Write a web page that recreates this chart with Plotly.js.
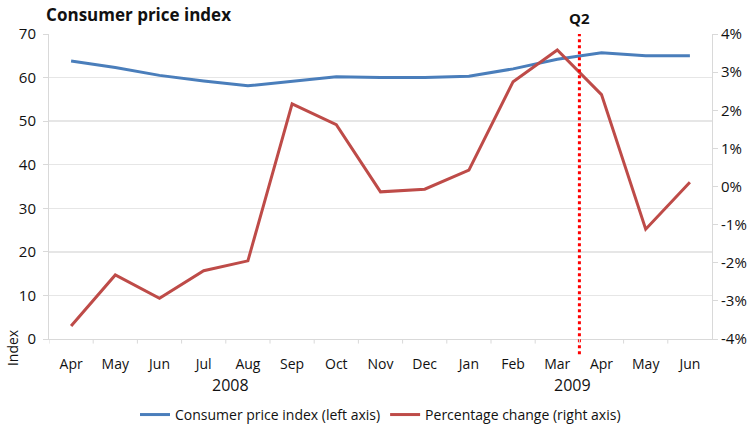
<!DOCTYPE html>
<html><head><meta charset="utf-8">
<script src="https://cdn.plot.ly/plotly-3.0.1.min.js"></script>
<style>html,body{margin:0;padding:0;background:#fff}#chart{width:756px;height:430px}</style>
</head><body><div id="chart"></div>
<script>
var months = ["Apr 08","May 08","Jun 08","Jul 08","Aug 08","Sep 08","Oct 08","Nov 08","Dec 08","Jan 09","Feb 09","Mar 09","Apr 09","May 09","Jun 09"];
var monthLabels = ["Apr","May","Jun","Jul","Aug","Sep","Oct","Nov","Dec","Jan","Feb","Mar","Apr","May","Jun"];
var cpi = [63.8,62.3,60.5,59.2,58.1,59.2,60.2,60.0,60.0,60.3,62.0,64.2,65.7,65.0,65.0];
var pctChange = [-3.66,-2.32,-2.93,-2.21,-1.95,2.17,1.62,-0.14,-0.07,0.43,2.75,3.58,2.41,-1.12,0.11];
var rightTickVals = [-4,-3,-2,-1,0,1,2,3,4];
var rightTickText = ["-4%","-3%","-2%","-1%","0%","1%","2%","3%","4%"];
var yearLabels = ["2008","2009"];
var yearPos = [3.6,11.35];

var F = "Open Sans, Liberation Sans, sans-serif";
var idx = months.map(function(_,i){return i;});
var traces = [
 {x: idx, y: cpi, type:'scatter', mode:'lines', name:'Consumer price index (left axis)',
  line:{color:'#4a7ebb', width:3}, yaxis:'y'},
 {x: idx, y: pctChange, type:'scatter', mode:'lines', name:'Percentage change (right axis)',
  line:{color:'#be4b48', width:3}, yaxis:'y2'}
];
var ann = [
 {text:'<b>Q2</b>', xref:'x', x:11.5, xanchor:'center', yref:'paper', y:1.052, yanchor:'middle', showarrow:false, font:{family:F,size:15,color:'#111'}},
 {text:'Index', xref:'paper', x:-0.056, xanchor:'center', yref:'paper', y:-0.027, yanchor:'middle', textangle:-90, showarrow:false, font:{family:F,size:14,color:'#111'}}
];
yearLabels.forEach(function(t,i){
 ann.push({text:t, xref:'x', x:yearPos[i], xanchor:'center', yref:'paper', y:-0.151, yanchor:'middle', showarrow:false, font:{family:F,size:16,color:'#111'}});
});
var layout = {
 width:756, height:430,
 margin:{l:49, r:44, t:34, b:91, autoexpand:false},
 paper_bgcolor:'#fff', plot_bgcolor:'#fff',
 font:{family:F, size:14, color:'#111'},
 title:{text:'<b>Consumer price index</b>', x:0.061, xanchor:'left', y:0.965, yanchor:'middle', font:{family:F,size:17,color:'#111'}},
 showlegend:true,
 legend:{orientation:'h', x:0.5, xanchor:'center', yref:'container', y:0.035, yanchor:'middle', font:{family:F,size:14,color:'#111'}},
 xaxis:{range:[-0.5,14.5], tickmode:'array', tickvals:idx, ticktext:monthLabels, showgrid:false,
   showline:true, linecolor:'#d9d9d9', linewidth:1, ticks:'', zeroline:false, fixedrange:true,
   ticklabelstandoff:12, automargin:false,
   tickfont:{family:F,size:14,color:'#111'}},
 yaxis:{range:[0,70], dtick:10, showgrid:true, gridcolor:'#e6e6e6', gridwidth:1.5, zeroline:false,
   showline:true, linecolor:'#d9d9d9', ticks:'outside', ticklen:5, tickcolor:'#d9d9d9',
   ticklabelstandoff:4, automargin:false,
   tickfont:{family:F,size:15,color:'#111'}},
 yaxis2:{range:[-4,4], tickmode:'array', tickvals:rightTickVals, ticktext:rightTickText, overlaying:'y', side:'right', showgrid:false, zeroline:false,
   showline:true, linecolor:'#d9d9d9', ticks:'outside', ticklen:5, tickcolor:'#d9d9d9', automargin:false,
   tickfont:{family:F,size:15,color:'#111'}},
 shapes:[
  {type:'line', xref:'x', x0:11.5, x1:11.5, yref:'paper', y0:-0.05, y1:1, line:{color:'#ff0000', width:3, dash:'dot'}}
 ].concat(idx.map(function(i){return {type:'line', xref:'x', x0:i-0.5, x1:i-0.5, yref:'paper', y0:0, y1:-0.015, line:{color:'#d9d9d9', width:1}};})),
 annotations:ann
};
Plotly.newPlot('chart', traces, layout, {displayModeBar:false, staticPlot:true});
</script></body></html>
